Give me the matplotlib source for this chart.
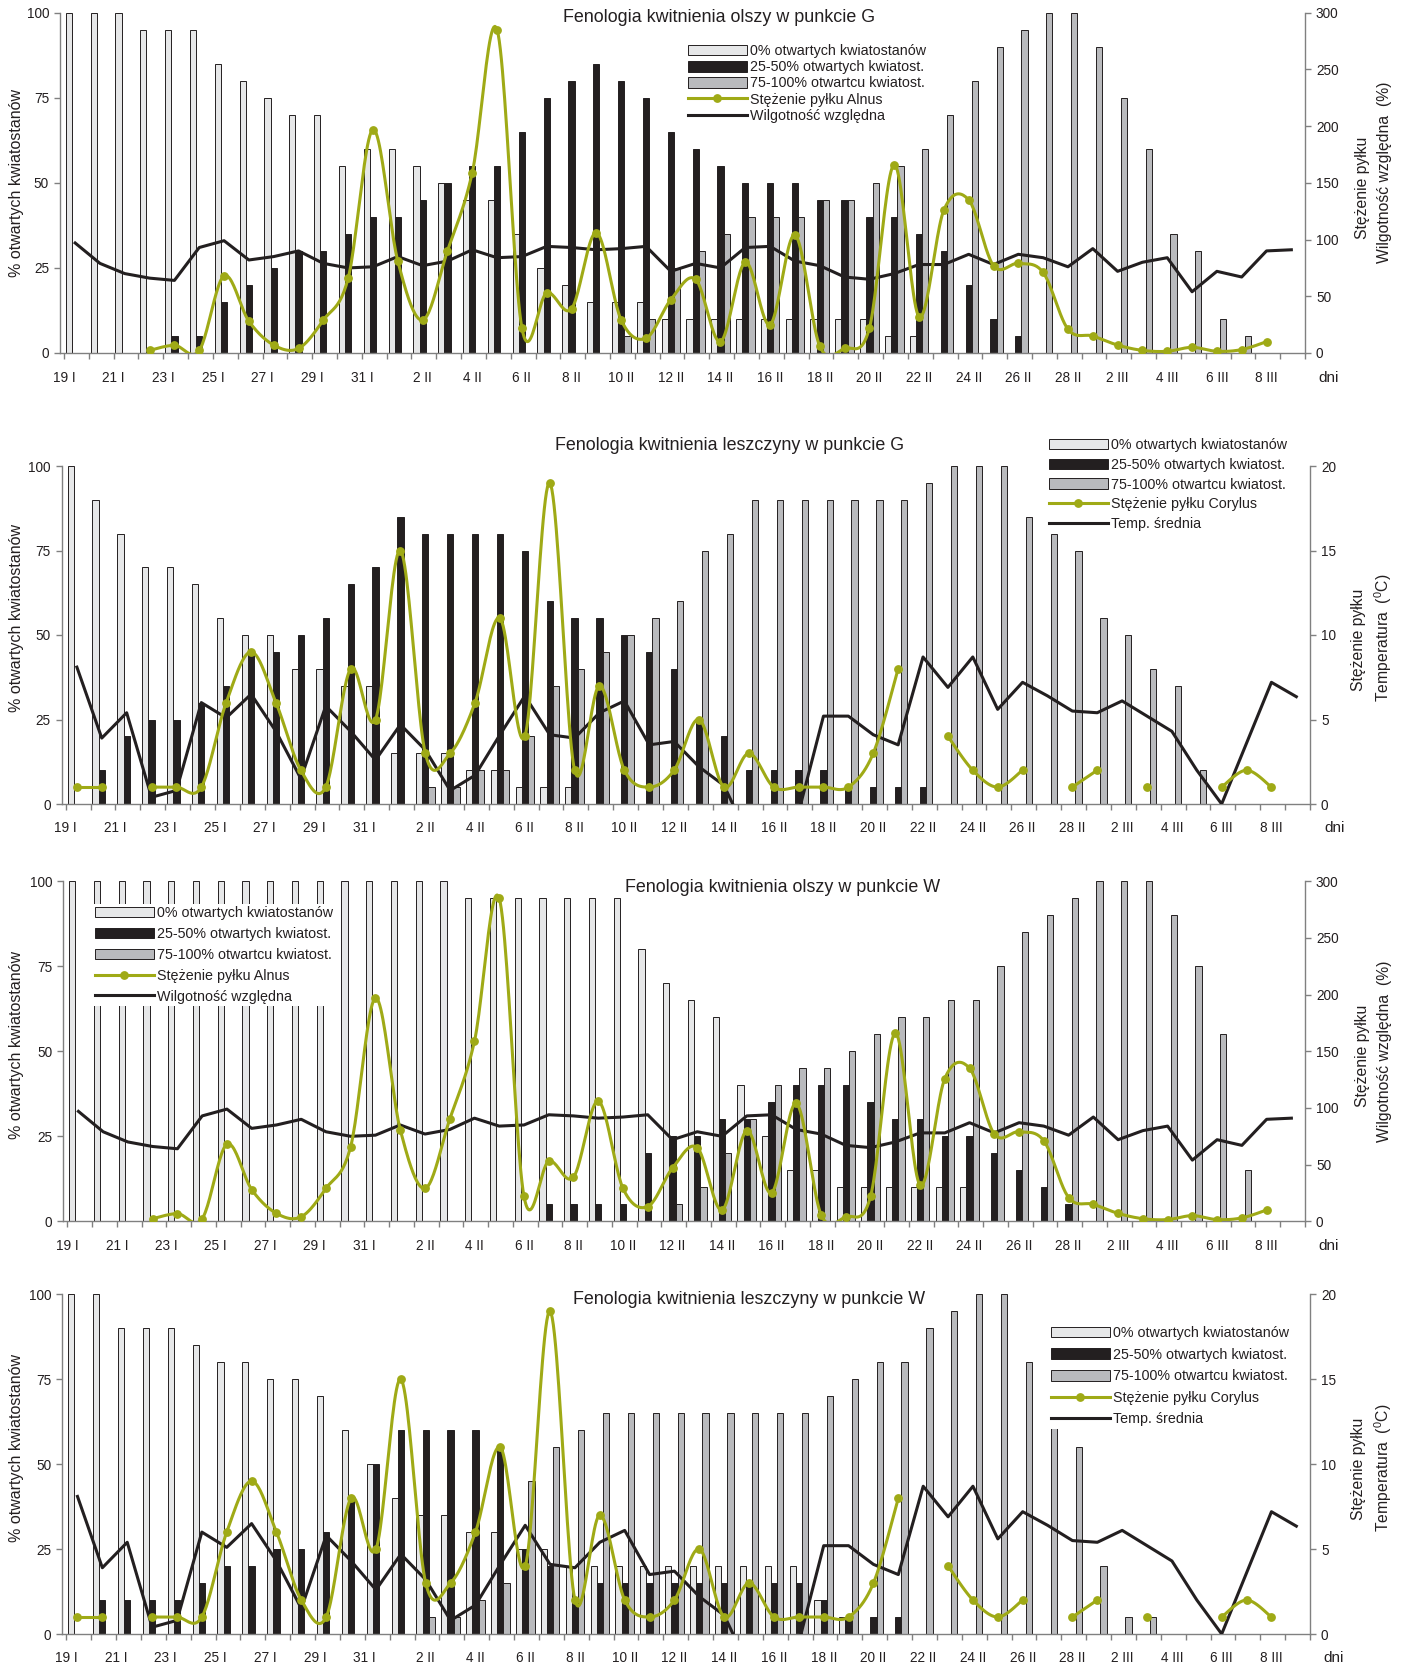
import numpy as np
import matplotlib
matplotlib.use("Agg")
import matplotlib.pyplot as plt
from matplotlib.patches import Patch
from matplotlib.lines import Line2D
from matplotlib.transforms import ScaledTranslation

plt.rcParams['font.family'] = ['Liberation Sans', 'DejaVu Sans']
plt.rcParams['mathtext.fontset'] = 'custom'
plt.rcParams['mathtext.rm'] = 'Liberation Sans'
plt.rcParams['mathtext.it'] = 'Liberation Sans:italic'
plt.rcParams['mathtext.bf'] = 'Liberation Sans:bold'

# ---------------- data ----------------
months = ["I", "II", "III"]
month_days = [list(range(19, 32)), list(range(1, 29)), list(range(1, 10))]
days = [f"{d} {m}" for m, ds in zip(months, month_days) for d in ds]
day_month = [m for m, ds in zip(months, month_days) for d in ds]

nan = np.nan

# Olcha (Alnus) - punkt G
g_alnus_white = [100, 100, 100, 95, 95, 95, 85, 80, 75, 70, 70, 55, 60, 60, 55, 50, 45,
                 45, 35, 25, 20, 15, 15, 15, 10, 10, 10, 10, 10, 10, 10, 10, 10, 5, 5,
                 0, 0, 0, 0, 0, 0, 0, 0, 0, 0, 0, 0, 0, 0, 0]
g_alnus_black = [0, 0, 0, 0, 5, 5, 15, 20, 25, 30, 30, 35, 40, 40, 45, 50, 55,
                 55, 65, 75, 80, 85, 80, 75, 65, 60, 55, 50, 50, 50, 45, 45, 40, 40, 35,
                 30, 20, 10, 5, 0, 0, 0, 0, 0, 0, 0, 0, 0, 0, 0]
g_alnus_grey = [0, 0, 0, 0, 0, 0, 0, 0, 0, 0, 0, 0, 0, 0, 0, 0, 0,
                0, 0, 0, 0, 0, 5, 10, 25, 30, 35, 40, 40, 40, 45, 45, 50, 55, 60,
                70, 80, 90, 95, 100, 100, 90, 75, 60, 35, 30, 10, 5, 0, 0]

# Olcha (Alnus) - punkt W
w_alnus_white = [100, 100, 100, 100, 100, 100, 100, 100, 100, 100, 100, 100, 100, 100, 100, 100,
                 95, 95, 95, 95, 95, 95, 95, 80, 70, 65, 60, 40, 25, 15, 15, 10, 10, 10, 10,
                 10, 10, 0, 0, 0, 0, 0, 0, 0, 0, 0, 0, 0, 0, 0]
w_alnus_black = [0, 0, 0, 0, 0, 0, 0, 0, 0, 0, 0, 0, 0, 0, 0, 0, 0, 0, 0,
                 5, 5, 5, 5, 20, 25, 25, 30, 30, 35, 40, 40, 40, 35, 30, 30,
                 25, 25, 20, 15, 10, 5, 0, 0, 0, 0, 0, 0, 0, 0, 0]
w_alnus_grey = [0, 0, 0, 0, 0, 0, 0, 0, 0, 0, 0, 0, 0, 0, 0, 0, 0, 0, 0, 0, 0, 0, 0, 0,
                5, 10, 20, 30, 40, 45, 45, 50, 55, 60, 60,
                65, 65, 75, 85, 90, 95, 100, 100, 100, 90, 75, 55, 15, 0, 0]

# Stężenie pyłku Alnus i wilgotność względna (wspólne dla G i W)
alnus_pollen = [nan, nan, nan, 2.3, 6.8, 2.3, 68, 28, 7, 4, 29, 66, 197, 81, 29, 90, 159,
                285, 22, 53, 39, 106, 29, 13, 47, 65, 10, 80, 25, 104, 6, 4, 22, 166, 32,
                126, 135, 77, 79, 71, 21, 15, 7, 2.3, 1.5, 5, 1.5, 3, 10, nan]
humidity = [97, 79, 70, 66, 64, 93, 99, 82, 85, 90, 79, 75, 76, 85, 77, 81, 91,
            84, 85, 94, 93, 91, 92, 94, 72, 79, 75, 93, 94, 81, 77, 67, 65, 70, 78,
            78, 87, 78, 87, 84, 76, 92, 72, 80, 84, 54, 72, 67, 90, 91]

# Leszczyna (Corylus) - punkt G
g_cor_white = [100, 90, 80, 70, 70, 65, 55, 50, 50, 40, 40, 35, 35, 15, 15, 15, 10,
               10, 5, 5, 5, 0, 0, 0, 0, 0, 0, 0, 0, 0, 0, 0, 0, 0, 0,
               0, 0, 0, 0, 0, 0, 0, 0, 0, 0, 0, 0, 0, 0, 0]
g_cor_black = [0, 10, 20, 25, 25, 30, 35, 45, 45, 50, 55, 65, 70, 85, 80, 80, 80,
               80, 75, 60, 55, 55, 50, 45, 40, 25, 20, 10, 10, 10, 10, 5, 5, 5, 5,
               0, 0, 0, 0, 0, 0, 0, 0, 0, 0, 0, 0, 0, 0, 0]
g_cor_grey = [0, 0, 0, 0, 0, 0, 0, 0, 0, 0, 0, 0, 0, 0, 5, 5, 10,
              10, 20, 35, 40, 45, 50, 55, 60, 75, 80, 90, 90, 90, 90, 90, 90, 90, 95,
              100, 100, 100, 85, 80, 75, 55, 50, 40, 35, 10, 0, 0, 0, 0]

# Leszczyna (Corylus) - punkt W
w_cor_white = [100, 100, 90, 90, 90, 85, 80, 80, 75, 75, 70, 60, 50, 40, 35, 35, 30,
               30, 25, 25, 20, 20, 20, 20, 20, 20, 20, 20, 20, 20, 10, 5, 0, 0, 0,
               0, 0, 0, 0, 0, 0, 0, 0, 0, 0, 0, 0, 0, 0, 0]
w_cor_black = [0, 10, 10, 10, 10, 15, 20, 20, 25, 25, 30, 40, 50, 60, 60, 60, 60,
               55, 25, 20, 10, 15, 15, 15, 15, 15, 15, 15, 15, 15, 10, 5, 5, 5, 0,
               0, 0, 0, 0, 0, 0, 0, 0, 0, 0, 0, 0, 0, 0, 0]
w_cor_grey = [0, 0, 0, 0, 0, 0, 0, 0, 0, 0, 0, 0, 0, 0, 5, 5, 10,
              15, 45, 55, 60, 65, 65, 65, 65, 65, 65, 65, 65, 65, 70, 75, 80, 80, 90,
              95, 100, 100, 80, 70, 55, 20, 5, 5, 0, 0, 0, 0, 0, 0]

# Stężenie pyłku Corylus i temperatura średnia (wspólne dla G i W)
corylus_pollen = [1, 1, nan, 1, 1, 1, 6, 9, 6, 2, 1, 8, 5, 15, 3, 3, 6,
                  11, 4, 19, 2, 7, 2, 1, 2, 5, 1, 3, 1, 1, 1, 1, 3, 8, nan,
                  4, 2, 1, 2, nan, 1, 2, nan, 1, nan, nan, 1, 2, 1, nan]
temperature = [8.1, 3.9, 5.4, 0.4, 0.8, 6.0, 5.1, 6.5, 4.3, 1.5, 5.8, 4.3, 2.6, 4.7, 3.2, 0.8, 1.7,
               4.1, 6.4, 4.1, 3.9, 5.4, 6.1, 3.5, 3.7, 2.2, 1.1, -2.0, -2.5, -0.5, 5.2, 5.2, 4.1, 3.5, 8.7,
               6.9, 8.7, 5.6, 7.2, 6.4, 5.5, 5.4, 6.1, 5.2, 4.3, 2.0, 0.0, 3.6, 7.2, 6.35]

bar_labels = ["0% otwartych kwiatostanów", "25-50% otwartych kwiatost.", "75-100% otwartcu kwiatost."]

# ---------------- style ----------------
C_WHITE = "#E6E7E8"
C_BLACK = "#231F20"
C_GREY = "#B9BABD"
C_DARK = "#231F20"
C_GREEN = "#9FAA16"
C_AXIS = "#808080"

W, H = 1406, 1668
fig = plt.figure(figsize=(W / 100, H / 100), dpi=100)
fig.patch.set_facecolor("white")


def rect(x0, x1, ytop, ybot):
    return [x0 / W, 1 - ybot / H, (x1 - x0) / W, (ybot - ytop) / H]


def fpos(x, y):
    return (x / W, 1 - y / H)


def smooth_segments(xv, yv, n=24):
    """Excel-like smoothed line (Catmull-Rom Bezier) over runs of valid points."""
    xv = np.asarray(xv, float)
    yv = np.asarray(yv, float)
    valid = ~np.isnan(yv)
    runs, cur = [], []
    for i in range(len(yv)):
        if valid[i]:
            cur.append(i)
        else:
            if cur:
                runs.append(cur)
            cur = []
    if cur:
        runs.append(cur)
    segs = []
    t = np.linspace(0, 1, n)[:, None]
    for run in runs:
        if len(run) < 2:
            continue
        P = np.column_stack([xv[run], yv[run]])
        m = len(P)
        pts = []
        for k in range(m - 1):
            p0 = P[k - 1] if k > 0 else P[k]
            p1 = P[k]
            p2 = P[k + 1]
            p3 = P[k + 2] if k + 2 < m else P[k + 1]
            c1 = p1 + (p2 - p0) / 6.0
            c2 = p2 - (p3 - p1) / 6.0
            b = ((1 - t) ** 3) * p1 + 3 * ((1 - t) ** 2) * t * c1 + 3 * (1 - t) * t ** 2 * c2 + t ** 3 * p2
            pts.append(b if k == 0 else b[1:])
        pts = np.vstack(pts)
        segs.append((pts[:, 0], pts[:, 1]))
    return segs


def panel(r, white, black, grey, pollen, line, rmax, rstep, pollen_label, line_label,
          title, title_xy, leg_xy, leg_spacing, rlab1, rlab2, rlab1_xy, rlab2_xy,
          ylab_xy, dni_xy, label_dy):
    ax = fig.add_axes(rect(*r))
    n = len(days)
    x = np.arange(n)
    for vals, off, col in ((white, -0.30, C_WHITE), (black, -0.05, C_BLACK), (grey, 0.20, C_GREY)):
        v = np.asarray(vals, float)
        m = v > 0
        ax.bar(x[m] + off, v[m], 0.25, color=col, edgecolor=C_DARK, linewidth=0.7, zorder=2)
    ax.set_xlim(-0.66, n - 0.5)
    ax.set_ylim(0, 100)
    ax.set_yticks([0, 25, 50, 75, 100])
    ax.set_xticks(np.arange(n + 1) - 0.5)
    ax.set_xticklabels([])
    ax.tick_params(axis="both", direction="out", length=4.3, width=1.0, color=C_AXIS,
                   labelsize=9.8, labelcolor=C_DARK, pad=3.6)
    for s in ("top", "right"):
        ax.spines[s].set_visible(False)
    for s in ("left", "bottom"):
        ax.spines[s].set_color(C_AXIS)
        ax.spines[s].set_linewidth(1.0)

    ax2 = ax.twinx()
    ax2.set_ylim(0, rmax)
    ax2.set_yticks(np.arange(0, rmax + 1, rstep))
    ax2.tick_params(axis="y", direction="out", length=4.3, width=1.0, color=C_AXIS,
                    labelsize=9.8, labelcolor=C_DARK, pad=3.6)
    for s in ("top", "left", "bottom"):
        ax2.spines[s].set_visible(False)
    ax2.spines["right"].set_color(C_AXIS)
    ax2.spines["right"].set_linewidth(1.0)

    xl = x - 0.05
    ax2.plot(xl, line, color=C_DARK, lw=2.2, solid_joinstyle="round", zorder=3)
    for xs, ys in smooth_segments(xl, pollen):
        ax2.plot(xs, ys, color=C_GREEN, lw=2.2, zorder=4)
    ax2.plot(xl, pollen, linestyle="none", marker="o", ms=5.3, color=C_GREEN, zorder=5)

    # category labels
    tr = ax.get_xaxis_transform() + ScaledTranslation(0, -label_dy / 100, fig.dpi_scale_trans)
    for i in range(0, n, 2):
        pos = i - 0.5 if day_month[i] == "I" else i - 0.05
        ax.text(pos, 0, days[i], transform=tr, ha="center", va="center",
                fontsize=9.8, color=C_DARK)

    handles = [Patch(facecolor=C_WHITE, edgecolor=C_DARK, linewidth=0.7),
               Patch(facecolor=C_BLACK, edgecolor=C_DARK, linewidth=0.7),
               Patch(facecolor=C_GREY, edgecolor=C_DARK, linewidth=0.7),
               Line2D([], [], color=C_GREEN, lw=2.2, marker="o", ms=5.3),
               Line2D([], [], color=C_DARK, lw=2.2)]
    labels = bar_labels + [pollen_label, line_label]
    leg = ax2.legend(handles, labels, loc="upper left", bbox_to_anchor=fpos(*leg_xy),
                     bbox_transform=fig.transFigure, frameon=True, facecolor="white",
                     edgecolor="none", framealpha=1, fancybox=False, borderpad=0.15,
                     borderaxespad=0, handlelength=4.1, handleheight=0.75,
                     handletextpad=0.25, labelspacing=leg_spacing, fontsize=10.3)
    for t in leg.get_texts():
        t.set_color(C_DARK)
    leg.set_zorder(10)

    fig.text(*fpos(*title_xy), title, ha="center", va="center", fontsize=12.9, color=C_DARK)
    fig.text(*fpos(*ylab_xy), "% otwartych kwiatostanów", rotation=90, ha="center",
             va="center", fontsize=11.5, color=C_DARK)
    fig.text(*fpos(*rlab1_xy), rlab1, rotation=90, ha="center", va="center",
             fontsize=11.3, color=C_DARK)
    fig.text(*fpos(*rlab2_xy), rlab2, rotation=90, ha="center", va="center",
             fontsize=11.3, color=C_DARK)
    fig.text(*fpos(*dni_xy), "dni", ha="center", va="center", fontsize=11, color=C_DARK)
    return ax, ax2


panel((60, 1305, 12.7, 353), g_alnus_white, g_alnus_black, g_alnus_grey,
      alnus_pollen, humidity, 300, 50, "Stężenie pyłku Alnus", "Wilgotność względna",
      "Fenologia kwitnienia olszy w punkcie G", (719, 17), (686, 42), 0.15,
      "Stężenie pyłku", "Wilgotność względna  (%)", (1362.7, 187.5), (1384, 172.5),
      (17, 183), (1329, 378), 25)

panel((61.7, 1310, 466, 804), g_cor_white, g_cor_black, g_cor_grey,
      corylus_pollen, temperature, 20, 5, "Stężenie pyłku Corylus", "Temp. średnia",
      "Fenologia kwitnienia leszczyny w punkcie G", (730, 445), (1047, 436), 0.4,
      "Stężenie pyłku", r"Temperatura  ($^{0}$C)", (1359, 639.5), (1383, 637.5),
      (17, 618), (1335, 828), 24.5)

panel((63.3, 1305, 881.3, 1221.3), w_alnus_white, w_alnus_black, w_alnus_grey,
      alnus_pollen, humidity, 300, 50, "Stężenie pyłku Alnus", "Wilgotność względna",
      "Fenologia kwitnienia olszy w punkcie W", (783, 887), (93, 904), 0.48,
      "Stężenie pyłku", "Wilgotność względna  (%)", (1362.7, 1055.5), (1384, 1051.5),
      (17, 1045), (1329, 1246), 25)

panel((62.3, 1310, 1294.3, 1634), w_cor_white, w_cor_black, w_cor_grey,
      corylus_pollen, temperature, 20, 5, "Stężenie pyłku Corylus", "Temp. średnia",
      "Fenologia kwitnienia leszczyny w punkcie W", (749, 1300), (1049, 1324), 0.53,
      "Stężenie pyłku", r"Temperatura  ($^{0}$C)", (1359, 1468.5), (1383, 1467.5),
      (17, 1448), (1334, 1658), 24)

fig.savefig("out.png", dpi=100, facecolor="white")
